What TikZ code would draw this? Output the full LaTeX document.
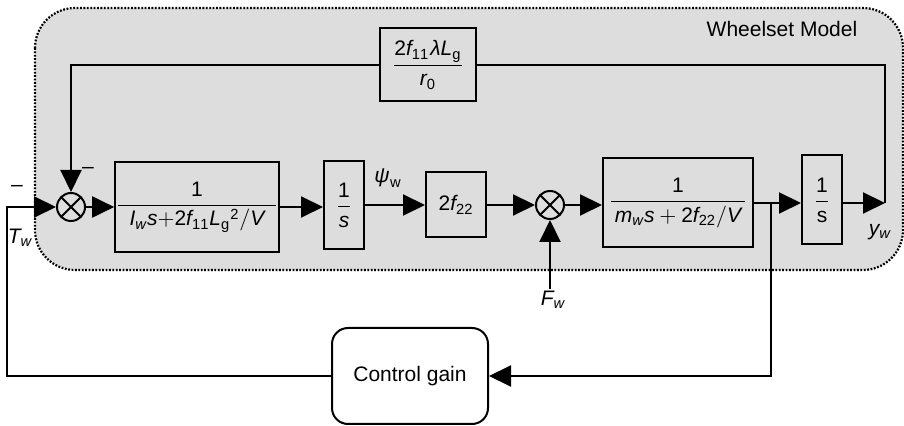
\documentclass[tikz,border=0pt]{standalone}
\usepackage{amsmath}
\usepackage{mathspec}
\setmainfont{Liberation Sans}
\setmathsfont(Digits,Latin,Greek){Liberation Sans}
\setmathrm{Liberation Sans}
\usepackage{tikz}
\usetikzlibrary{arrows.meta,positioning,calc}
\definecolor{wsgray}{RGB}{221,221,221}
\tikzset{
  blk/.style    ={draw,line width=1pt,inner sep=0pt,font=\fontsize{10.5}{12}\selectfont},
  sumnode/.style={circle,draw,line width=1pt,minimum size=14pt,inner sep=0pt,
    path picture={\draw[line width=1pt] (path picture bounding box.north west)--(path picture bounding box.south east)
      (path picture bounding box.north east)--(path picture bounding box.south west);}},
  sig/.style    ={line width=1pt,-{Triangle[length=11pt,width=10.5pt]}},
  wire/.style   ={line width=1pt},
  lbl/.style    ={font=\fontsize{10.5}{12}\selectfont,inner sep=1pt},
  wsbox/.style  ={fill=wsgray,line width=1.1pt,dash pattern=on 0.9pt off 0.8pt,rounded corners=20pt},
}

\begin{document}
\begin{tikzpicture}[x=0.5pt,y=-0.5pt]
  \useasboundingbox (0,0) rectangle (904,426);
  \draw[wsbox] (35,8) rectangle (903,270);
  \node[lbl](title) at (782,29){Wheelset Model};
  % forward path
  \node[sumnode](sum1) at (71,207){};
  \node[blk,minimum width=80.5pt,minimum height=45pt](plant1) at (197,207){$\dfrac{1}{\hspace{6pt}I_w s{+}2f_{11}L_{\mathrm{g}}{}^{2}/V\hspace{6pt}}$};
  \node[blk,minimum width=20pt,minimum height=44pt](int1) at (344,205){$\dfrac{1}{s}$};
  \node[blk,minimum width=30pt,minimum height=32.5pt](k22) at (456,205){$2f_{22}$};
  \node[sumnode](sum2) at (550,205){};
  \node[blk,minimum width=75pt,minimum height=44.5pt](plant2) at (678,203){$\dfrac{1}{\hspace{2pt}m_w s+2f_{22}/V\hspace{2pt}}$};
  \node[blk,minimum width=20pt,minimum height=44.5pt](int2) at (822,200){$\dfrac{1}{\mathrm{s}}$};
  \node[blk,minimum width=48pt,minimum height=36.5pt](kfb) at (428,65){$\dfrac{2f_{11}\lambda L_{\mathrm{g}}}{r_0}$};
  \node[blk,rounded corners=8pt,fill=white,minimum width=78pt,minimum height=48pt](ctrl) at (410,376){Control gain};
  % signal labels
  \node[lbl](psiw) at (388,178){$\psi_{\mathrm{w}}$};
  \node[lbl](fw) at (553,300){$F_w$};
  \node[lbl](yw) at (880,232){$y_w$};
  \node[lbl](tw) at (20,238){$T_w$};
  \node[lbl](neg1) at (17,188){--};
  \node[lbl](neg2) at (88,170){--};
  \coordinate (tin) at (7,207);
  \coordinate (yout) at (885,203);
  \coordinate (br) at ($(plant2.east)+(17,0)$);
  % connectors
  \draw[sig](sum1.east)--(plant1.west);
  \draw[sig](plant1.east)--(plant1.east -| int1.west);
  \draw[sig](int1.east)--(int1.east -| k22.west);
  \draw[sig](k22.east)--(sum2.west);
  \draw[sig](sum2.east)--(sum2.east -| plant2.west);
  \draw[sig](plant2.east)--(plant2.east -| int2.west);
  \draw[sig](int2.east |- plant2.east)--(yout);
  \draw[wire](yout)|-(kfb.east);
  \draw[sig](kfb.west)-|(sum1.north);
  \draw[sig](sum2.south |- fw.north)--(sum2.south);
  \draw[sig](br)|-(ctrl.east);
  \draw[sig](ctrl.west)-|(tin)--(sum1.west);
\end{tikzpicture}
\end{document}
